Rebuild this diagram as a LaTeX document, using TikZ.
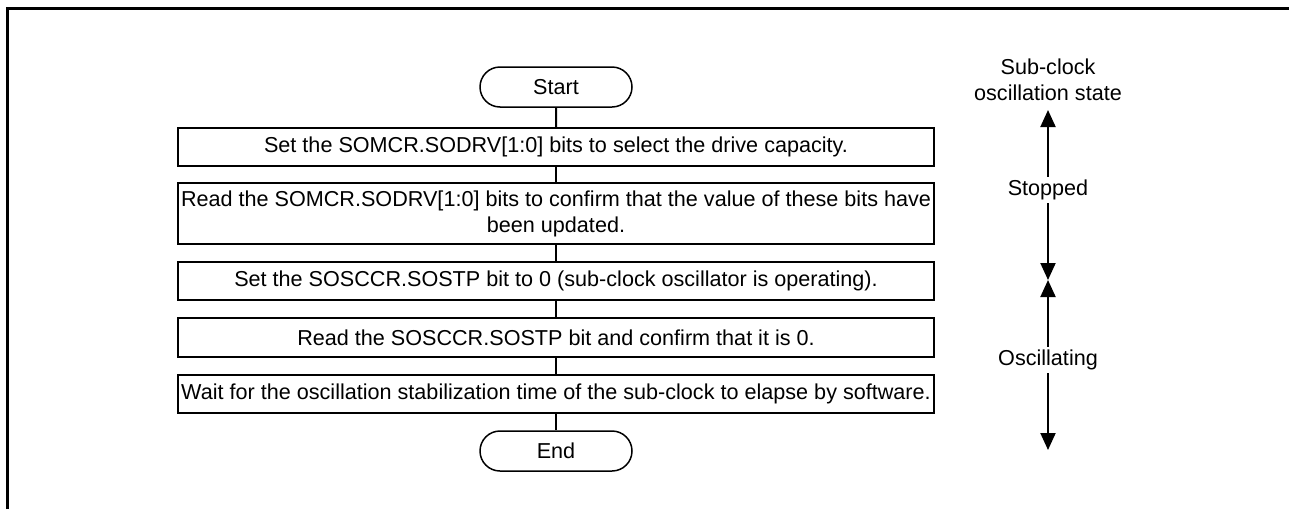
\documentclass[tikz,border=0pt]{standalone}
\usepackage{fontspec}
\setmainfont{Liberation Sans}
\usepackage{tikz}
\usetikzlibrary{arrows.meta,positioning,shapes.misc}
\tikzset{
  >={Triangle[length=17pt,width=15pt]},
  term/.style    ={draw,rounded rectangle,line width=1.5pt,minimum width=152pt,
                   minimum height=40pt,inner sep=0pt},
  stepbox/.style ={draw,line width=1.5pt,minimum width=756pt,align=center,
                   inner sep=0pt},
  lbl/.style     ={align=center,inner sep=3pt},
  conn/.style    ={draw,line width=2pt},
  state/.style   ={->,draw,line width=2pt},
}

\begin{document}
\begin{tikzpicture}[x=1pt,y=-1pt,font=\fontsize{21.6}{26}\selectfont]
\useasboundingbox (0,0) rectangle (1289,509);
% frame
\draw[line width=3pt] (7.5,509) -- (7.5,8.5) -- (1289,8.5);
% flow
\node[term] (start) at (556,87) {Start};
\node[stepbox,minimum height=38pt] (b1) at (556,147)
 {Set the SOMCR.SODRV[1:0] bits to select the drive capacity.};
\node[stepbox,minimum height=61pt] (b2) at (556,213.5)
 {Read the SOMCR.SODRV[1:0] bits to confirm that the value of these bits have\\ been updated.};
\node[stepbox,minimum height=38pt] (b3) at (556,281)
 {Set the SOSCCR.SOSTP bit to 0 (sub-clock oscillator is operating).};
\node[stepbox,minimum height=39pt] (b4) at (556,337.5)
 {Read the SOSCCR.SOSTP bit and confirm that it is 0.};
\node[stepbox,minimum height=38pt] (b5) at (556,394)
 {Wait for the oscillation stabilization time of the sub-clock to elapse by software.};
\node[term] (end) at (556,451) {End};
\draw[conn] (start) -- (b1);
\draw[conn] (b1) -- (b2);
\draw[conn] (b2) -- (b3);
\draw[conn] (b3) -- (b4);
\draw[conn] (b4) -- (b5);
\draw[conn] (b5) -- (end);
% oscillation state
\node[lbl] (title) at (1048,80) {Sub-clock\\oscillation state};
\node[lbl] (stopped) at (1048,190) {Stopped};
\node[lbl] (osc) at (1048,360) {Oscillating};
\coordinate (top) at (1048,110);
\coordinate (mid) at (1048,280);
\coordinate (bot) at (1048,450);
\draw[state] (stopped) -- (top);
\draw[state] (stopped) -- (mid);
\draw[state] (osc) -- (mid);
\draw[state] (osc) -- (bot);
\end{tikzpicture}
\end{document}
